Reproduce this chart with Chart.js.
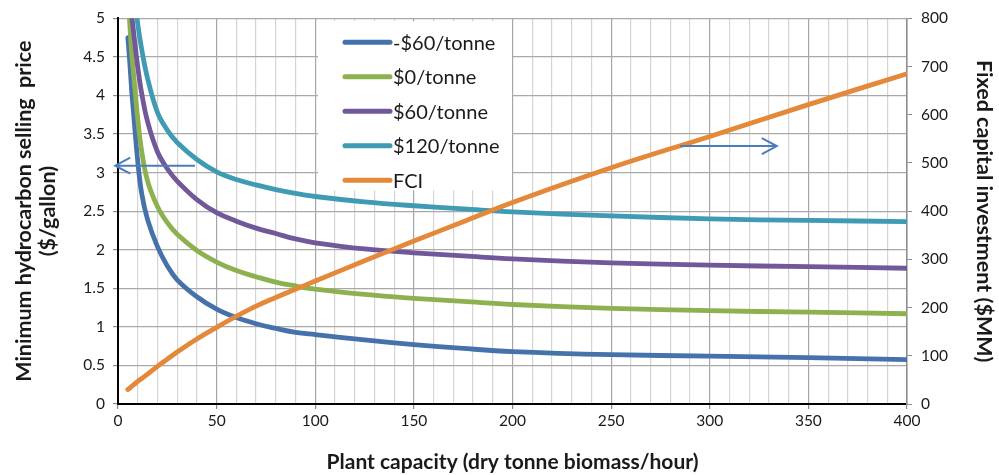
<!DOCTYPE html>
<html>
<head>
<meta charset="utf-8">
<script src="https://cdn.jsdelivr.net/npm/chart.js@4.4.1/dist/chart.umd.min.js"></script>
<style>
html,body{margin:0;padding:0;background:#fff;}
#wrap{width:999px;height:475px;position:relative;}
</style>
</head>
<body>
<div id="wrap"><canvas id="c" width="999" height="475"></canvas></div>
<script>
// ---- data ----
const capacity = [5,6,7,8,10,12,15,20,25,30,40,50,60,70,80,90,100,125,150,175,200,250,300,350,400];
const mhspMinus60 = [4.75,4.42,4.04,3.74,3.15,2.73,2.39,2.04,1.79,1.61,1.39,1.23,1.12,1.04,0.98,0.93,0.90,0.83,0.77,0.72,0.68,0.64,0.62,0.60,0.575];
const mhsp0       = [5.30,4.92,4.53,4.25,3.70,3.28,2.89,2.56,2.35,2.20,1.99,1.84,1.73,1.65,1.58,1.53,1.49,1.42,1.37,1.33,1.29,1.24,1.21,1.19,1.17];
const mhsp60      = [null,null,5.03,4.80,4.37,4.03,3.66,3.27,3.05,2.89,2.65,2.48,2.37,2.28,2.21,2.14,2.09,2.01,1.96,1.92,1.88,1.83,1.80,1.78,1.76];
const mhsp120     = [null,null,null,5.40,4.93,4.60,4.22,3.78,3.55,3.39,3.17,3.01,2.91,2.84,2.78,2.73,2.69,2.62,2.57,2.53,2.49,2.44,2.40,2.38,2.365];
const fci         = [30,33,37,40,47,53,62,78,93,108,135,159,182,203,221,238,255,297,338,378,418,490,555,621,685];
const seriesLabels = ['-$60/tonne','$0/tonne','$60/tonne','$120/tonne','FCI'];
const xTickLabels = [0,50,100,150,200,250,300,350,400];
const leftTicks = [0,0.5,1,1.5,2,2.5,3,3.5,4,4.5,5];
const rightTicks = [0,100,200,300,400,500,600,700,800];
// annotation arrows (data coordinates)
const leftArrow = {from:[39,3.09], to:[-1.4,3.09]};
const rightArrow = {from:[285,535], to:[334,535]};

const colors = ['#4672ab','#8db14f','#71589b','#3f9bb3','#e4883a'];
const seriesValues = [mhspMinus60, mhsp0, mhsp60, mhsp120, fci];

const FONT = 'Lato';

const datasets = seriesValues.map((vals, i) => ({
  label: seriesLabels[i],
  data: capacity.map((x, j) => ({x: x, y: vals[j]})),
  borderColor: colors[i],
  backgroundColor: colors[i],
  borderWidth: 4.8,
  pointRadius: 0,
  tension: 0.4,
  borderCapStyle: 'round',
  borderJoinStyle: 'round',
  yAxisID: i === 4 ? 'y1' : 'y',
  order: i === 4 ? 1 : 6 - i
}));

const legendPlugin = {
  id: 'boxLegend',
  afterDatasetsDraw(chart) {
    const ctx = chart.ctx;
    const ca = chart.chartArea;
    const left = ca.left + 200, top = ca.top + 3, w = 194, h = 169;
    ctx.save();
    ctx.fillStyle = '#ffffff';
    ctx.fillRect(left, top, w, h);
    ctx.font = '20px ' + FONT;
    ctx.textBaseline = 'middle';
    ctx.textAlign = 'left';
    chart.data.datasets.forEach((ds, i) => {
      const y = ca.top + 24 + i * 34.5;
      ctx.strokeStyle = ds.borderColor;
      ctx.lineWidth = 5;
      ctx.lineCap = 'round';
      ctx.beginPath();
      ctx.moveTo(left + 27, y);
      ctx.lineTo(left + 72, y);
      ctx.stroke();
      ctx.fillStyle = '#1a1a1a';
      ctx.fillText(ds.label, left + 75, y + 1);
    });
    ctx.restore();
  }
};

const arrowPlugin = {
  id: 'arrows',
  afterDatasetsDraw(chart) {
    const ctx = chart.ctx;
    const sx = chart.scales.x, sy = chart.scales.y, sy1 = chart.scales.y1;
    function arrow(a, ys) {
      const x1 = sx.getPixelForValue(a.from[0]), y1 = ys.getPixelForValue(a.from[1]);
      const x2 = sx.getPixelForValue(a.to[0]), y2 = ys.getPixelForValue(a.to[1]);
      const dir = Math.sign(x2 - x1);
      ctx.save();
      ctx.strokeStyle = '#4a7ebb';
      ctx.lineWidth = 2;
      ctx.beginPath();
      ctx.moveTo(x1, y1); ctx.lineTo(x2, y2);
      ctx.moveTo(x2 - dir * 15, y2 - 8); ctx.lineTo(x2, y2); ctx.lineTo(x2 - dir * 15, y2 + 8);
      ctx.stroke();
      ctx.restore();
    }
    arrow(leftArrow, sy);
    arrow(rightArrow, sy1);
  }
};

new Chart(document.getElementById('c'), {
  type: 'line',
  data: { datasets: datasets },
  plugins: [legendPlugin, arrowPlugin],
  options: {
    responsive: false,
    animation: false,
    devicePixelRatio: 1,
    layout: { padding: { top: 15, left: 0, right: 0, bottom: 0 } },
    plugins: { legend: { display: false }, tooltip: { enabled: false } },
    scales: {
      x: {
        type: 'linear',
        min: 0, max: 400,
        afterFit(s) { s.height = 71; },
        ticks: {
          stepSize: 10,
          autoSkip: false,
          maxRotation: 0,
          maxTicksLimit: 100,
          padding: 3,
          color: '#1a1a1a',
          font: { family: FONT, size: 15.5 },
          callback: v => xTickLabels.includes(v) ? String(v) : ''
        },
        grid: {
          color: c => (c.tick && c.tick.value % 50 === 0) ? '#a6a6a6' : '#d4d4d4',
          lineWidth: 1.2,
          tickLength: 5,
          tickColor: c => (c.tick && c.tick.value % 50 === 0) ? '#8c8c8c' : 'rgba(0,0,0,0)'
        },
        border: { color: '#000000', width: 2 },
        title: {
          display: true,
          text: 'Plant capacity (dry tonne biomass/hour)',
          color: '#1a1a1a',
          font: { family: FONT, size: 21, weight: 'bold', lineHeight: 1.2 },
          padding: { top: 0, bottom: 0 }
        }
      },
      y: {
        type: 'linear',
        position: 'left',
        min: 0, max: 5,
        afterFit(s) { s.width = 118; },
        afterBuildTicks(s) { s.ticks = leftTicks.map(v => ({value: v})); },
        ticks: {
          padding: 8,
          color: '#1a1a1a',
          font: { family: FONT, size: 15.5 },
          callback: v => String(v)
        },
        grid: { color: '#a9a9a9', lineWidth: 1.2, tickLength: 5, tickColor: '#8c8c8c' },
        border: { color: '#000000', width: 2 },
        title: {
          display: true,
          text: ['Minimum hydrocarbon selling  price', '($/gallon)'],
          color: '#1a1a1a',
          font: { family: FONT, size: 21.5, weight: 'bold', lineHeight: 1.12 },
          padding: { top: 12, bottom: 0 }
        }
      },
      y1: {
        type: 'linear',
        position: 'right',
        min: 0, max: 800,
        afterFit(s) { s.width = 92; },
        afterBuildTicks(s) { s.ticks = rightTicks.map(v => ({value: v})); },
        ticks: {
          padding: 9,
          color: '#1a1a1a',
          font: { family: FONT, size: 15.5 },
          callback: v => String(v)
        },
        grid: { drawOnChartArea: false, tickLength: 5, tickColor: '#8c8c8c' },
        border: { color: '#8c8c8c', width: 1.5 },
        title: {
          display: true,
          text: 'Fixed capital investment ($MM)',
          color: '#1a1a1a',
          font: { family: FONT, size: 21.5, weight: 'bold', lineHeight: 1.1 },
          padding: { top: 3, bottom: 0 }
        }
      }
    }
  }
});
</script>
</body>
</html>
